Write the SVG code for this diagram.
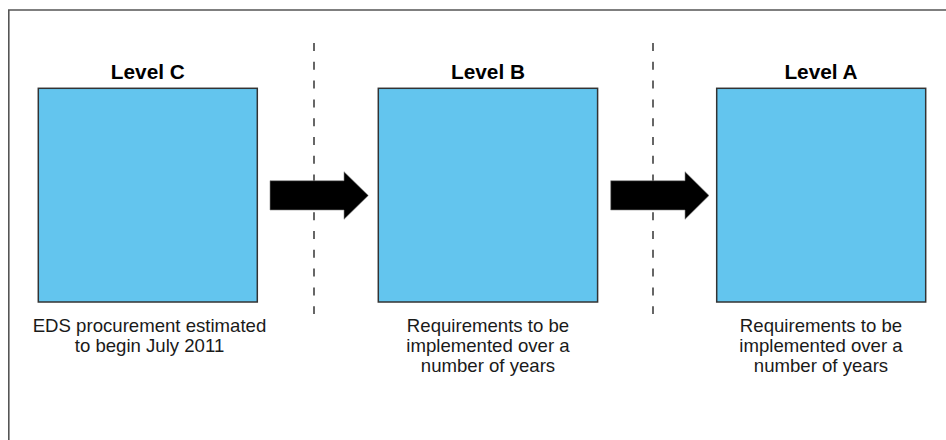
<svg xmlns="http://www.w3.org/2000/svg" width="946" height="440" viewBox="0 0 946 440">
<style>
.box{fill:#63C5EE;stroke:#333;stroke-width:1.5}
.title{font-family:"Liberation Sans",Arial,sans-serif;font-weight:bold;font-size:20.8px;fill:#000;text-anchor:middle}
.desc{font-family:"Liberation Sans",Arial,sans-serif;font-size:18.6px;fill:#1a1a1a;text-anchor:middle}
.dash{stroke:#666;stroke-width:2;stroke-dasharray:8 10.8;fill:none}
.arrow{fill:#000;stroke:#888;stroke-width:0.6}
</style>
<rect width="946" height="440" fill="#fff"/>
<path d="M8.8,441 V10 H946" fill="none" stroke="#555" stroke-width="1.6"/>
<g id="separators">
<line class="dash" x1="314" y1="43" x2="314" y2="314"/>
<line class="dash" x1="653" y1="43" x2="653" y2="314"/>
</g>
<g id="levelC">
<text class="title" x="147.8" y="79.3">Level C</text>
<rect class="box" x="38.3" y="88.3" width="219" height="213.7"/>
<text class="desc" x="149.5" y="332.3">EDS procurement estimated</text>
<text class="desc" x="149.5" y="352.3">to begin July 2011</text>
</g>
<g id="levelB">
<text class="title" x="488" y="79.3">Level B</text>
<rect class="box" x="378.3" y="88.3" width="219.3" height="213.7"/>
<text class="desc" x="488" y="332.3">Requirements to be</text>
<text class="desc" x="488" y="352.3">implemented over a</text>
<text class="desc" x="488" y="372.3">number of years</text>
</g>
<g id="levelA">
<text class="title" x="821" y="79.3">Level A</text>
<rect class="box" x="716.7" y="88.3" width="209" height="213.7"/>
<text class="desc" x="821" y="332.3">Requirements to be</text>
<text class="desc" x="821" y="352.3">implemented over a</text>
<text class="desc" x="821" y="372.3">number of years</text>
</g>
<g id="connectors">
<polygon class="arrow" points="270,180.7 344,180.7 344,171.7 368.3,195.5 344,219.3 344,210 270,210"/>
<polygon class="arrow" points="610.7,180.7 685,180.7 685,171.7 709,195.5 685,219.3 685,210 610.7,210"/>
</g>
</svg>
